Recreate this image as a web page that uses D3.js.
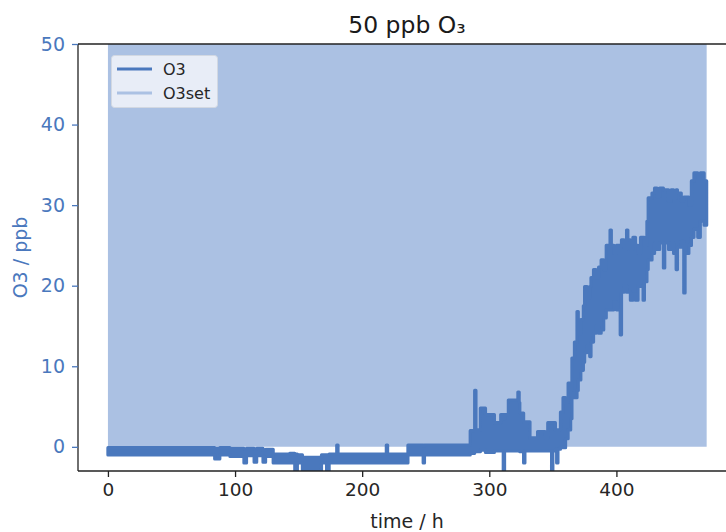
<!DOCTYPE html>
<html><head><meta charset="utf-8">
<script src="https://cdn.jsdelivr.net/npm/d3@7"></script>
<style>body{margin:0;background:#fff}svg{display:block}text{font-family:"DejaVu Sans",sans-serif}</style>
</head><body>
<script>
// O3 measurement envelope (bin start time h, min ppb, max ppb)
const o3Time = [0,84,88,96,107,109,115,117,122,124,130,143,147,149,153,168,172,174,180,181,219,220,236,248,249,
  285,288.5,289.5,293,297,304,309,311,312,315,322.5,323.5,324,327,328,332,338,344,346,349,350,352,353,354,
  356,358,360,362,364,365,367,369,370,372,374,375,377,379,380,382,384,386,388,390,392,395,396,398,400,403,404,406,408,409,411,413,415,417,419,421,422,424,425,428,430,432,434,437,438,441,443,445,447,448,451,453,454,457,459,461,464,466,469,471];
const o3Low = [-1.0,-1.5,-1.0,-1.2,-2.0,-1.1,-1.9,-1.1,-1.9,-1.2,-2.0,-2.0,-3.1,-2.0,-3.1,-2.0,-3.1,-2.0,-2.0,-2.0,-2.0,-2.0,-1.0,-2.0,-1.0,
  -0.8,-0.6,-0.6,-0.4,-0.7,-0.5,-0.5,-2.9,-0.5,-0.5,-0.5,-0.5,-0.6,-2.0,-0.5,-0.5,-0.5,-0.5,-0.5,-2.9,-0.5,-0.3,-2.0,-0.3,
  0.0,-0.1,1.0,2.1,3.5,6.1,6.1,7.0,8.3,9.5,10.5,11.7,12.5,11.2,13.0,14.1,15.0,14.1,14.5,16.0,17.0,17.0,17.0,18.0,17.0,13.9,19.2,20.0,19.2,19.2,18.2,19.0,18.2,20.0,19.9,18.2,20.5,22.0,23.2,24.0,25.3,24.5,25.3,22.2,25.3,24.5,25.3,24.0,22.0,24.8,25.5,19.1,24.0,25.0,26.0,27.0,26.0,28.0,27.5,27.5];
const o3High = [-0.1,-0.2,-0.1,-0.2,-0.3,-0.2,-0.3,-0.2,-0.4,-0.3,-0.9,-0.8,-0.9,-1.0,-1.3,-1.0,-1.0,-0.9,0.2,-0.9,0.2,-0.9,0.2,0.1,0.2,
  2.0,7.0,2.1,4.8,4.0,3.0,4.0,3.5,4.0,5.8,6.8,5.5,4.2,3.1,3.1,1.1,1.9,1.1,3.0,3.0,3.0,2.1,2.1,2.1,
  4.3,6.1,5.5,7.9,7.0,11.0,13.0,16.8,14.0,15.8,17.5,19.9,18.5,19.9,21.0,22.0,21.0,22.3,23.2,22.0,25.0,26.9,25.0,24.0,25.0,25.0,25.7,24.5,26.9,25.7,24.5,26.0,25.0,24.0,26.0,26.0,25.0,28.0,30.9,31.5,32.1,31.0,32.1,31.9,31.9,30.5,31.9,30.9,31.9,31.5,30.5,31.0,31.0,30.0,33.0,34.0,33.5,34.0,33.0,33.0];
// O3 set point
const setTime = [0, 471];
const setValue = [50, 50];
// axis ticks
const xTicks = [0,100,200,300,400];
const yTicks = [0,10,20,30,40,50];

const W = 726, H = 532;
const blue = "#4a78bd", light = "#abc1e3";
const svg = d3.select("body").append("svg").attr("width", W).attr("height", H);

const x = d3.scaleLinear().domain([-23.55, 494.55]).range([78, 736.6]);
const y = d3.scaleLinear().domain([-3, 50]).range([471, 44]);

svg.append("clipPath").attr("id","clip").append("rect")
  .attr("x",78).attr("y",44).attr("width",660).attr("height",427);
const g = svg.append("g").attr("clip-path","url(#clip)");

const setData = setTime.map((t,i)=>({t, v:setValue[i]}));
g.append("path").datum(setData)
  .attr("fill", light)
  .attr("d", d3.area().x(d=>x(d.t)).y0(y(0)).y1(d=>y(d.v)));

const o3Data = o3Time.map((t,i)=>({t, lo:o3Low[i], hi:o3High[i]}));
g.append("path").datum(o3Data)
  .attr("fill", blue).attr("stroke", blue).attr("stroke-width", 3.2).attr("stroke-linejoin","round")
  .attr("d", d3.area().curve(d3.curveStepAfter).x(d=>x(d.t)).y0(d=>y(d.lo)).y1(d=>y(d.hi)));

// spines
const sp = svg.append("g").attr("stroke","#222").attr("stroke-width",1.3).attr("fill","none");
sp.append("line").attr("x1",78).attr("x2",78).attr("y1",44).attr("y2",471);
sp.append("line").attr("x1",78).attr("x2",W).attr("y1",471).attr("y2",471);
sp.append("line").attr("x1",78).attr("x2",W).attr("y1",44).attr("y2",44);

// x axis
const xa = svg.append("g").attr("transform","translate(0,471)")
  .call(d3.axisBottom(x).tickValues(xTicks).tickSize(6).tickPadding(6).tickFormat(d3.format("d")));
xa.select(".domain").remove();
xa.selectAll("line").attr("stroke","#222").attr("stroke-width",1.3);
xa.selectAll("text").attr("fill","#262626").style("font-size","18.5px").attr("font-family","DejaVu Sans");

// y axis
const ya = svg.append("g").attr("transform","translate(78,0)")
  .call(d3.axisLeft(y).tickValues(yTicks).tickSize(6).tickPadding(7).tickFormat(d3.format("d")));
ya.select(".domain").remove();
ya.selectAll("line").attr("stroke",blue).attr("stroke-width",1.3);
ya.selectAll("text").attr("fill",blue).style("font-size","19px").attr("font-family","DejaVu Sans");

// labels
svg.append("text").attr("x",407).attr("y",33).attr("text-anchor","middle")
  .style("font-size","23.5px").attr("fill","#1a1a1a").text("50 ppb O₃");
svg.append("text").attr("x",407).attr("y",528).attr("text-anchor","middle")
  .style("font-size","19px").attr("fill","#262626").text("time / h");
svg.append("text").attr("transform","translate(27,257.5) rotate(-90)").attr("text-anchor","middle")
  .style("font-size","19px").attr("fill",blue).text("O3 / ppb");

// legend
const lg = svg.append("g");
lg.append("rect").attr("x",111.5).attr("y",55.5).attr("width",106).attr("height",52).attr("rx",3)
  .attr("fill","#edf1f8").attr("fill-opacity",0.92).attr("stroke","#d2d8e2");
lg.append("line").attr("x1",117).attr("x2",152).attr("y1",69).attr("y2",69).attr("stroke",blue).attr("stroke-width",3);
lg.append("line").attr("x1",117).attr("x2",152).attr("y1",93).attr("y2",93).attr("stroke",light).attr("stroke-width",3);
lg.append("text").attr("x",163).attr("y",75).style("font-size","16px").attr("fill","#262626").text("O3");
lg.append("text").attr("x",163).attr("y",99).style("font-size","16px").attr("fill","#262626").text("O3set");
</script>
</body></html>
